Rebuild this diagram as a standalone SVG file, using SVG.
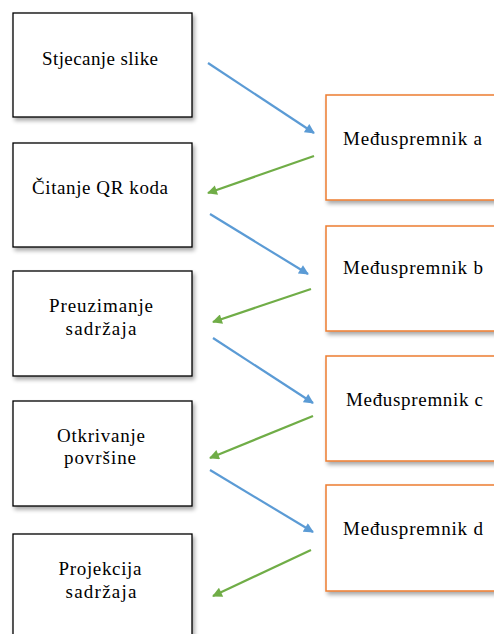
<svg xmlns="http://www.w3.org/2000/svg" width="494" height="634" viewBox="0 0 494 634">
<style>
.lb{fill:#fff;stroke:#000;stroke-width:1.3}
.rb{fill:#fff;stroke:#ED7D31;stroke-width:1.5}
text{font-family:'Liberation Serif','DejaVu Serif','Times New Roman',serif;font-size:19px;fill:#000}
.m{text-anchor:middle}
.blue{stroke:#5B9BD5;stroke-width:2.2;fill:none;marker-end:url(#ab)}
.green{stroke:#70AD47;stroke-width:2.2;fill:none;marker-end:url(#ag)}
</style>
<defs>
<filter id="sh" x="-10%" y="-10%" width="130%" height="130%">
<feGaussianBlur in="SourceAlpha" stdDeviation="2"/>
<feOffset dx="2" dy="3" result="b"/>
<feComponentTransfer><feFuncA type="linear" slope="0.35"/></feComponentTransfer>
<feMerge><feMergeNode/><feMergeNode in="SourceGraphic"/></feMerge>
</filter>
<marker id="ab" viewBox="0 0 10 10" refX="9" refY="5" markerWidth="5" markerHeight="4.5" orient="auto" markerUnits="strokeWidth">
<path d="M0,0 L10,5 L0,10 z" fill="#5B9BD5"/>
</marker>
<marker id="ag" viewBox="0 0 10 10" refX="9" refY="5" markerWidth="5" markerHeight="4.5" orient="auto" markerUnits="strokeWidth">
<path d="M0,0 L10,5 L0,10 z" fill="#70AD47"/>
</marker>
</defs>
<g id="n1"><rect class="lb" x="13" y="13" width="179" height="104" filter="url(#sh)"/><text class="m" x="100" y="65" textLength="116">Stjecanje slike</text></g>
<g id="n2"><rect class="lb" x="13" y="143" width="179" height="104" filter="url(#sh)"/><text class="m" x="100" y="194" textLength="136">Čitanje QR koda</text></g>
<g id="n3"><rect class="lb" x="13" y="271" width="179" height="105" filter="url(#sh)"/><text class="m" x="101" y="312" textLength="104">Preuzimanje</text><text class="m" x="101" y="335" textLength="71">sadržaja</text></g>
<g id="n4"><rect class="lb" x="13" y="401" width="179" height="105" filter="url(#sh)"/><text class="m" x="101" y="442" textLength="88">Otkrivanje</text><text class="m" x="100" y="464" textLength="72">površine</text></g>
<g id="n5"><rect class="lb" x="13" y="534" width="179" height="110" filter="url(#sh)"/><text class="m" x="100" y="575" textLength="83">Projekcija</text><text class="m" x="101" y="598" textLength="71">sadržaja</text></g>
<g id="ma"><rect class="rb" x="326" y="95" width="180" height="105" filter="url(#sh)"/><text x="343" y="145" textLength="139">Međuspremnik a</text></g>
<g id="mb"><rect class="rb" x="326" y="226" width="180" height="105" filter="url(#sh)"/><text x="343" y="274" textLength="140">Međuspremnik b</text></g>
<g id="mc"><rect class="rb" x="326" y="356" width="180" height="105" filter="url(#sh)"/><text x="346" y="406" textLength="137">Međuspremnik c</text></g>
<g id="md"><rect class="rb" x="326" y="485" width="180" height="106" filter="url(#sh)"/><text x="343" y="535" textLength="140">Međuspremnik d</text></g>
<g id="connectors">
<line class="blue" x1="208" y1="63" x2="314" y2="133"/>
<line class="green" x1="314" y1="156" x2="208" y2="193"/>
<line class="blue" x1="210" y1="214" x2="308" y2="274"/>
<line class="green" x1="311" y1="289" x2="213" y2="322"/>
<line class="blue" x1="213" y1="338" x2="313" y2="403"/>
<line class="green" x1="313" y1="416" x2="210" y2="458"/>
<line class="blue" x1="210" y1="470" x2="313" y2="532"/>
<line class="green" x1="311" y1="550" x2="213" y2="596"/>
</g>
</svg>
